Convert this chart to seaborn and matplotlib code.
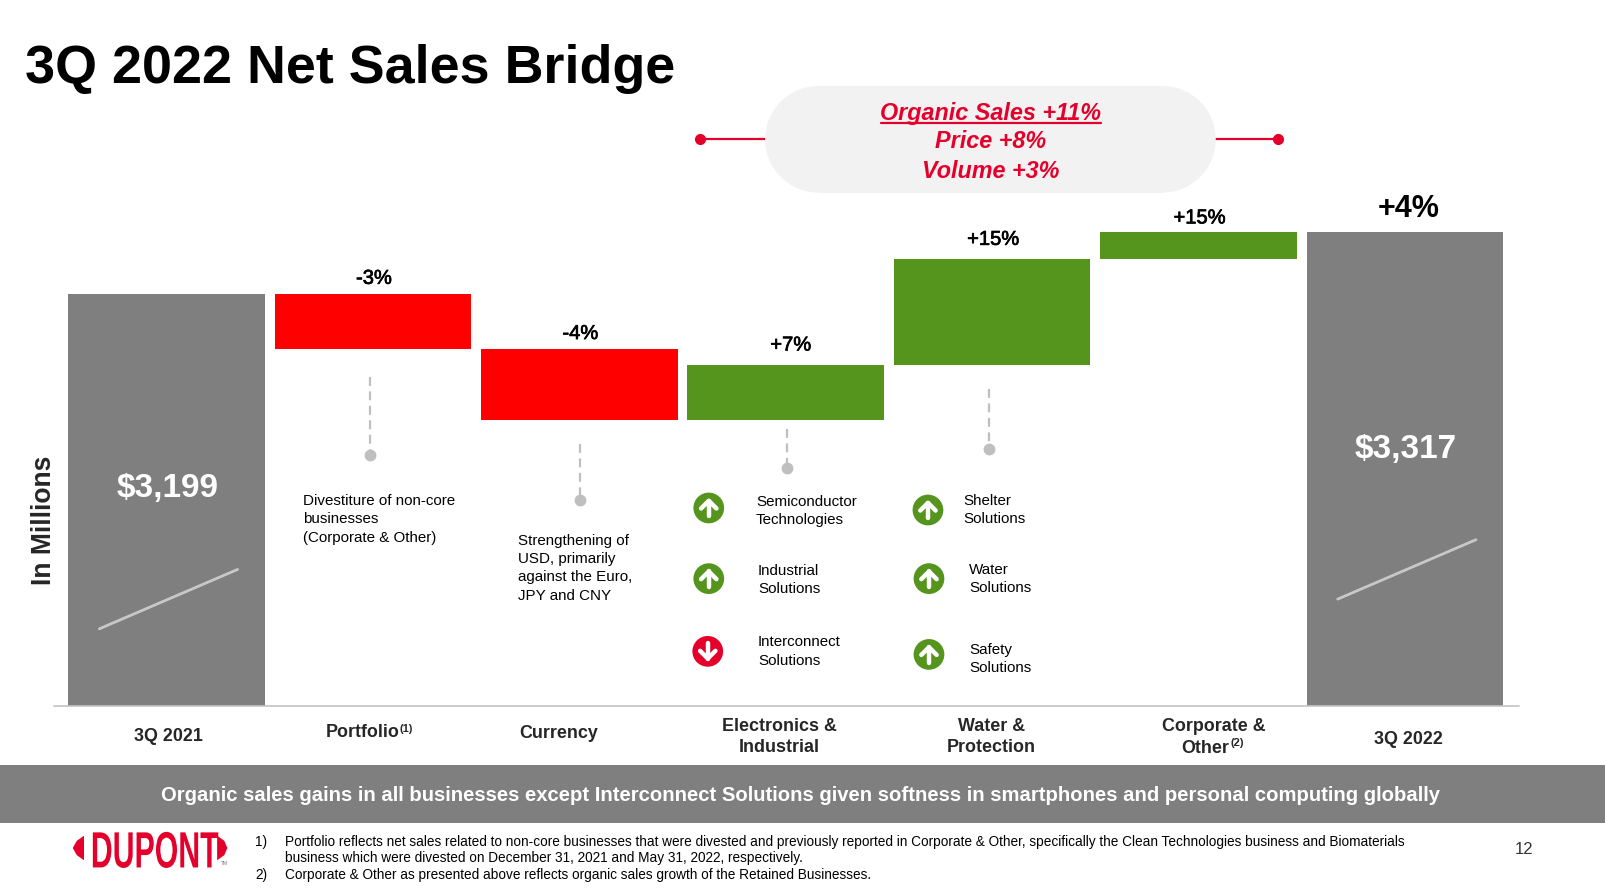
import matplotlib
matplotlib.use("Agg")
import matplotlib.pyplot as plt
import matplotlib.patheffects as pe
from matplotlib.patches import Circle, Polygon, Rectangle
from matplotlib.transforms import Affine2D
import numpy as np
import seaborn as sns

# values, $M
CATEGORIES = ['3Q 2021', 'Portfolio', 'Currency', 'Electronics & Industrial',
              'Water & Protection', 'Corporate & Other', '3Q 2022']
START_VALUE = 3199
DELTAS = [-106, -136, 106, 203, 51]
END_VALUE = 3317
AXIS_FLOOR = 2408  # the slide's axis is broken, bars do not start at 0
DELTA_LABELS = ['-3%', '-4%', '+7%', '+15%', '+15%']

GRAY = '#7F7F7F'
RED = '#FF0000'
GREEN = '#55951D'
BRAND_RED = '#E4002B'
DOT_GRAY = '#BFBFBF'

sns.set_theme(style="white")
plt.rcParams['font.family'] = ['Liberation Sans', 'DejaVu Sans']


class StretchText(pe.AbstractPathEffect):
    # no condensed font here, so stretch the logo text to its tall narrow shape
    def __init__(self, sx, sy):
        super().__init__()
        self.sx = sx
        self.sy = sy

    def draw_path(self, renderer, gc, tpath, affine, rgbFace=None):
        ext = tpath.get_extents()
        cx = (ext.x0 + ext.x1) / 2
        stretch = Affine2D().translate(-cx, 0).scale(self.sx, self.sy).translate(cx, 0)
        renderer.draw_path(gc, tpath, stretch + affine, rgbFace)


# waterfall geometry
running = START_VALUE + np.cumsum(DELTAS)
before = np.r_[START_VALUE, running[:-1]]
bottoms = np.r_[AXIS_FLOOR, np.minimum(before, running), AXIS_FLOOR]
heights = np.r_[START_VALUE - AXIS_FLOOR, np.abs(DELTAS), END_VALUE - AXIS_FLOOR]
bar_colors = [GRAY] + [RED if d < 0 else GREEN for d in DELTAS] + [GRAY]

fig = plt.figure(figsize=(16.06, 8.91), dpi=100, facecolor='white')
W, H = 1568.0, 870.0  # overlay works in the shrunk slide coordinates

# axes box chosen so bars land on the slide's columns
ax = fig.add_axes([61.9 / W, 1 - 689 / H, 1410.5 / W, 539 / H])
sns.barplot(x=CATEGORIES, y=heights, bottom=bottoms, color=GRAY, saturation=1,
            width=0.953, linewidth=0, ax=ax)
for patch, c in zip(ax.patches, bar_colors):
    patch.set_facecolor(c)
ax.set_xlim(-0.5, 6.5)
ax.set_ylim(AXIS_FLOOR, 3468)
ax.axis('off')

# percent labels sit on top of the floating bars
label_tops = (bottoms + heights)[1:6]
label_dx = [1, 1, 5, 1, 1]
label_dy = [15, 15, 19, 19, 14]
heavy = [pe.withStroke(linewidth=0.5, foreground='black')]
for i, (lab, top) in enumerate(zip(DELTA_LABELS, label_tops)):
    ax.annotate(lab, (i + 1, top), xytext=(label_dx[i], label_dy[i] * 1.024), textcoords='offset pixels',
                ha='center', va='center', fontsize=14.5, color='black', path_effects=heavy)

ov = fig.add_axes([0, 0, 1, 1], facecolor='none')
ov.set_xlim(0, W)
ov.set_ylim(H, 0)
ov.axis('off')

ov.text(24, 67, '3Q 2022 Net Sales Bridge', fontsize=38.8, fontweight='bold',
        ha='left', va='center', color='black')

# organic sales pill
ov.plot([683, 1248], [136, 136], color=BRAND_RED, lw=1.6, zorder=1)
ov.plot([683, 1248], [136, 136], 'o', color=BRAND_RED, ms=7, zorder=1)
ov.add_patch(Rectangle((799, 84), 336, 104, fc='#F2F2F2', ec='none', zorder=2))
ov.add_patch(Circle((799, 136), 52, fc='#F2F2F2', ec='none', zorder=2))
ov.add_patch(Circle((1135, 136), 52, fc='#F2F2F2', ec='none', zorder=2))
for txt, y in [('Organic Sales +11%', 111), ('Price +8%', 138), ('Volume +3%', 167)]:
    ov.text(967, y, txt, fontsize=16.8, fontweight='bold', style='italic', color=BRAND_RED,
            ha='center', va='center', zorder=3)
ov.plot([860, 1075], [120.5, 120.5], color=BRAND_RED, lw=1.6, zorder=3)

# bar text
ov.text(164, 476.5, '$3,199', color='white', fontsize=24, fontweight='bold', ha='center', va='center')
ov.text(1372, 438.5, '$3,317', color='white', fontsize=24, fontweight='bold', ha='center', va='center')
ov.text(1375, 204, '+4%', color='black', fontsize=22, fontweight='bold', ha='center', va='center')
ov.text(43, 508, 'In Millions', rotation=90, fontsize=19.1, fontweight='bold', ha='center', va='center')
ov.plot([97, 232], [614, 556], color='#C8C8C8', lw=2)
ov.plot([1306, 1441], [585, 527], color='#C8C8C8', lw=2)

# callout leaders
for x, y0, y1 in [(361, 368, 444), (566, 434, 488), (768, 419, 457), (966, 380, 438)]:
    ov.plot([x, x], [y0, y1], color=DOT_GRAY, lw=1.6, ls=(0, (4, 2.5)))
    ov.plot([x], [y1], 'o', color=DOT_GRAY, ms=7.5)


def body(x, y, s):
    ov.text(x, y, s, fontsize=10.9, ha='left', va='top', color='black', linespacing=1.38)


body(296, 482.5, 'Divestiture of non-core\nbusinesses\n(Corporate & Other)')
body(506, 521.5, 'Strengthening of\nUSD, primarily\nagainst the Euro,\nJPY and CNY')
body(738, 483.5, 'Semiconductor\nTechnologies')
body(740, 550.5, 'Industrial\nSolutions')
body(740, 620.5, 'Interconnect\nSolutions')
body(941, 482.5, 'Shelter\nSolutions')
body(946, 549.5, 'Water\nSolutions')
body(946, 627.5, 'Safety\nSolutions')


def arrow_icon(x, y, up=True):
    s = 1 if up else -1
    ov.add_patch(Circle((x, y), 15, fc=GREEN if up else BRAND_RED, ec='none'))
    ov.plot([x, x], [y - 7 * s, y + 8 * s], color='white', lw=3.2, solid_capstyle='round')
    ov.plot([x - 7.5, x, x + 7.5], [y + 0.5 * s, y - 7 * s, y + 0.5 * s], color='white', lw=3.2,
            solid_capstyle='round', solid_joinstyle='round')


arrow_icon(692, 496)
arrow_icon(692, 565)
arrow_icon(691, 636, up=False)
arrow_icon(906, 498)
arrow_icon(907, 565)
arrow_icon(907, 639)

# baseline and category names
ov.plot([53, 1483], [689.5, 689.5], color='#C4C4C4', lw=1.2)


def cat(x, y, s):
    ov.text(x, y, s, fontsize=12.9, fontweight='bold', ha='center', va='center', linespacing=1.33)


def sup(x, y, s):
    ov.text(x, y, s, fontsize=8, fontweight='bold', ha='left', va='center')


cat(164, 719.5, '3Q 2021')
cat(354, 715.5, 'Portfolio')
sup(390, 712, '(1)')
cat(545, 716.5, 'Currency')
cat(761, 719.5, 'Electronics &\nIndustrial')
cat(968, 719.5, 'Water &\nProtection')
cat(1185, 709, 'Corporate &')
cat(1177, 730.5, 'Other')
sup(1201, 725, '(2)')
cat(1375, 722.5, '3Q 2022')

# banner
ov.add_patch(Rectangle((0, 747), W, 56.5, fc=GRAY, ec='none'))
ov.text(782, 776.5, 'Organic sales gains in all businesses except Interconnect Solutions given softness in '
        'smartphones and personal computing globally', color='white', fontsize=14.6,
        fontweight='bold', ha='center', va='center')

# logo
ov.text(151, 847, 'DUPONT', fontsize=20, fontweight='bold', color=BRAND_RED, ha='center', va='baseline',
        path_effects=[StretchText(1.09, 1.835)])
ov.add_patch(Polygon([(82, 816), (75, 821), (71, 828), (75, 835), (82, 840)], fc=BRAND_RED, ec='none'))
ov.add_patch(Polygon([(212, 816), (219, 821), (222, 828), (219, 835), (212, 840)], fc=BRAND_RED, ec='none'))
ov.text(219, 843, 'TM', fontsize=3.5, color='#777777', ha='center', va='center')


# footnotes
def foot(x, y, s):
    ov.text(x, y, s, fontsize=9.77, ha='left', va='center', color='black')


foot(249, 822, '1)')
foot(278, 822, 'Portfolio reflects net sales related to non-core businesses that were divested and previously '
     'reported in Corporate & Other, specifically the Clean Technologies business and Biomaterials')
foot(278, 838, 'business which were divested on December 31, 2021 and May 31, 2022, respectively.')
foot(249, 854, '2)')
foot(278, 854, 'Corporate & Other as presented above reflects organic sales growth of the Retained Businesses.')
ov.text(1488, 829, '12', fontsize=12, color='#333333', ha='center', va='center')

fig.savefig('out.png', dpi=100)
